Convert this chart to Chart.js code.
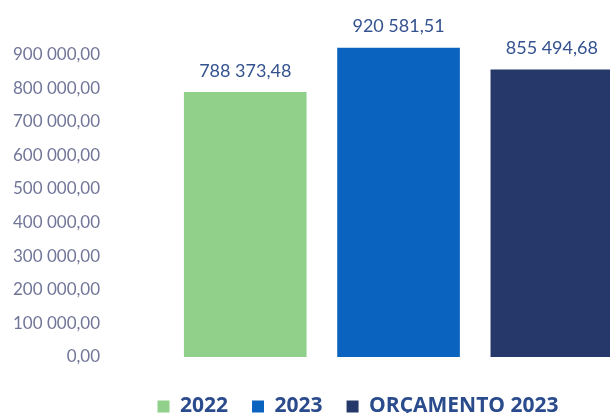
<!DOCTYPE html>
<html>
<head>
<meta charset="utf-8">
<script src="https://cdn.jsdelivr.net/npm/chart.js@4"></script>
<style>
    html, body { margin: 0; padding: 0; background: #fff; overflow: hidden; }
    #wrap { width: 708px; height: 413px; }
</style>
</head>
<body>
<div id="wrap"><canvas id="chart"></canvas></div>
<script>
// Data
const categories = [''];
const seriesNames = ['2022', '2023', 'ORÇAMENTO 2023'];
const values2022 = [788373.48];
const values2023 = [920581.51];
const valuesBudget = [855494.68];
const seriesColors = ['#91d08b', '#0a63bf', '#26386a'];

// 920581.51 -> "920 581,51"
function fmt(v) {
    const parts = v.toFixed(2).split('.');
    const intPart = parts[0].replace(/\B(?=(\d{3})+(?!\d))/g, ' ');
    return intPart + ',' + parts[1];
}

// Draw value labels above each bar
const barLabels = {
    id: 'barLabels',
    afterDatasetsDraw(chart) {
        const ctx = chart.ctx;
        ctx.save();
        ctx.font = '18px Lato, "Open Sans", sans-serif';
        ctx.fillStyle = '#34528f';
        ctx.textAlign = 'center';
        ctx.textBaseline = 'bottom';
        chart.data.datasets.forEach((ds, i) => {
            chart.getDatasetMeta(i).data.forEach((bar, j) => {
                ctx.fillText(fmt(ds.data[j]), bar.x, bar.y - 12);
            });
        });
        ctx.restore();
    }
};

// Fixed legend height, legend pushed a bit lower/right than Chart.js would put it
const legendSpot = {
    id: 'legendSpot',
    beforeLayout(chart) {
        const legend = chart.legend;
        if (legend && !legend._fixed) {
            const fit = legend.fit;
            legend.fit = function () {
                fit.call(this);
                this.height = 56;
            };
            legend._fixed = true;
        }
    },
    afterLayout(chart) {
        chart.legend.top += 15;
        chart.legend.bottom += 15;
        chart.legend.left += 10;
        chart.legend.right += 10;
    }
};

const ctx = document.getElementById('chart').getContext('2d');
new Chart(ctx, {
    type: 'bar',
    data: {
        labels: categories,
        datasets: [{
            label: seriesNames[0],
            data: values2022,
            backgroundColor: seriesColors[0]
        }, {
            label: seriesNames[1],
            data: values2023,
            backgroundColor: seriesColors[1]
        }, {
            label: seriesNames[2],
            data: valuesBudget,
            backgroundColor: seriesColors[2]
        }]
    },
    options: {
        responsive: true,
        maintainAspectRatio: false,
        animation: false,
        categoryPercentage: 0.8,
        barPercentage: 0.8,
        layout: {
            padding: { top: 21, right: 22, left: 10, bottom: 0 }
        },
        plugins: {
            legend: {
                position: 'bottom',
                labels: {
                    boxWidth: 12,
                    boxHeight: 12,
                    padding: 24,
                    color: '#2a4b8c',
                    font: { family: '"Open Sans", Lato, sans-serif', size: 21, weight: 'bold' }
                }
            },
            tooltip: { enabled: false }
        },
        scales: {
            x: {
                display: false
            },
            y: {
                min: 0,
                max: 1000000,
                grid: { display: false },
                border: { display: false },
                ticks: {
                    stepSize: 100000,
                    padding: 3,
                    color: '#717699',
                    font: { family: 'Lato, "Open Sans", sans-serif', size: 17 },
                    callback: (v) => v >= 1000000 ? '' : fmt(v)
                }
            }
        }
    },
    plugins: [barLabels, legendSpot]
});
</script>
</body>
</html>
